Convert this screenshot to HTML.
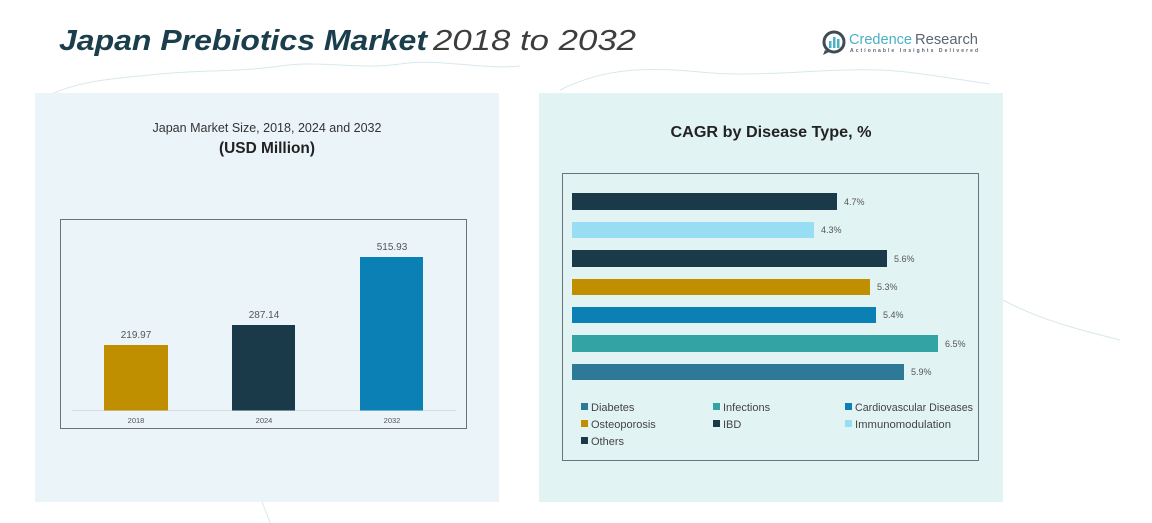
<!DOCTYPE html>
<html><head><meta charset="utf-8"><style>
html,body{margin:0;padding:0;background:#fff;}
body{width:1152px;height:523px;overflow:hidden;}
svg{display:block;font-family:"Liberation Sans",sans-serif;}
</style></head><body>
<svg width="1152" height="523" viewBox="0 0 1152 523" xmlns="http://www.w3.org/2000/svg">
<rect width="1152" height="523" fill="#ffffff"/>
<!-- faint map lines -->
<g fill="none" stroke="#d8e8ee" stroke-width="1">
<path d="M50 95 C80 80,120 78,160 74 C200 70,240 72,280 66 C320 60,360 70,400 64 C440 58,480 70,520 66"/>
<path d="M560 90 C600 70,640 66,700 72 C760 78,820 68,880 70 C920 72,960 80,990 84"/>
<path d="M262 502 C265 510,268 516,270 523"/>
<path d="M1003 300 C1040 320,1080 330,1120 340"/>
</g>
<!-- panels -->
<rect x="35" y="93" width="464" height="409" fill="#ebf4f9"/>
<rect x="539" y="93" width="464" height="409" fill="#e2f3f4"/>

<!-- title -->
<text x="59" y="50" font-size="29" font-weight="bold" font-style="italic" fill="#1b3e4c" textLength="368" lengthAdjust="spacingAndGlyphs">Japan Prebiotics Market</text>
<text x="433" y="50" font-size="29" font-style="italic" fill="#3d3d3d" textLength="203" lengthAdjust="spacingAndGlyphs">2018 to 2032</text>

<!-- logo -->
<g>
<circle cx="834" cy="42" r="10" fill="none" stroke="#3d4c55" stroke-width="3"/>
<path d="M825 50 L823 55 L829 52 Z" fill="#3d4c55"/>
<rect x="829" y="41" width="2.5" height="7" fill="#4ab0c8"/>
<rect x="833" y="37" width="2.5" height="11" fill="#4ab0c8"/>
<rect x="837" y="39" width="2.5" height="9" fill="#4ab0c8"/>
<text x="849" y="44" font-size="15" fill="#4ab0c8" textLength="63" lengthAdjust="spacingAndGlyphs">Credence</text>
<text x="915" y="44" font-size="15" fill="#5a6670" textLength="63" lengthAdjust="spacingAndGlyphs">Research</text>
<text x="850" y="52" font-size="5" font-weight="bold" fill="#5a6670" textLength="128" lengthAdjust="spacing">Actionable Insights Delivered</text>
</g>

<!-- left chart titles -->
<text x="267" y="132" font-size="13" fill="#333" text-anchor="middle" textLength="229" lengthAdjust="spacingAndGlyphs">Japan Market Size, 2018, 2024 and 2032</text>
<text x="267" y="153" font-size="15.5" font-weight="bold" fill="#222" text-anchor="middle" textLength="96" lengthAdjust="spacingAndGlyphs">(USD Million)</text>

<!-- left chart box -->
<rect x="60.5" y="219.5" width="406" height="209" fill="none" stroke="#6a7378" stroke-width="1"/>
<line x1="72" y1="410.5" x2="456" y2="410.5" stroke="#d5dde2" stroke-width="1"/>
<rect x="104" y="345" width="64" height="65.5" fill="#c08f00"/>
<rect x="232" y="325" width="63" height="85.5" fill="#1a3a4a"/>
<rect x="360" y="257" width="63" height="153.5" fill="#0a80b5"/>
<g font-size="10" fill="#555" text-anchor="middle">
<text x="136" y="338">219.97</text>
<text x="264" y="318">287.14</text>
<text x="392" y="250">515.93</text>
</g>
<g font-size="7.5" fill="#555" text-anchor="middle">
<text x="136" y="423">2018</text>
<text x="264" y="423">2024</text>
<text x="392" y="423">2032</text>
</g>

<!-- right chart title -->
<text x="771" y="137" font-size="15.5" font-weight="bold" fill="#222" text-anchor="middle" textLength="201" lengthAdjust="spacingAndGlyphs">CAGR by Disease Type, %</text>

<!-- right chart box -->
<rect x="562.5" y="173.5" width="416" height="287" fill="none" stroke="#6a7378" stroke-width="1"/>
<rect x="572" y="193" width="265" height="17" fill="#1a3a4a"/>
<rect x="572" y="222" width="242" height="16" fill="#97def5"/>
<rect x="572" y="250" width="315" height="17" fill="#1a3a4a"/>
<rect x="572" y="279" width="298" height="16" fill="#c08f00"/>
<rect x="572" y="307" width="304" height="16" fill="#0a80b5"/>
<rect x="572" y="335" width="366" height="17" fill="#33a3a3"/>
<rect x="572" y="364" width="332" height="16" fill="#2e7898"/>
<g font-size="9" fill="#555">
<text x="844" y="205">4.7%</text>
<text x="821" y="233">4.3%</text>
<text x="894" y="262">5.6%</text>
<text x="877" y="290">5.3%</text>
<text x="883" y="318">5.4%</text>
<text x="945" y="347">6.5%</text>
<text x="911" y="375">5.9%</text>
</g>
<!-- legend -->
<g font-size="11" fill="#444">
<rect x="581" y="403" width="7" height="7" fill="#2e7898"/><text x="591" y="411">Diabetes</text>
<rect x="713" y="403" width="7" height="7" fill="#33a3a3"/><text x="723" y="411">Infections</text>
<rect x="845" y="403" width="7" height="7" fill="#0a80b5"/><text x="855" y="411" textLength="118" lengthAdjust="spacingAndGlyphs">Cardiovascular Diseases</text>
<rect x="581" y="420" width="7" height="7" fill="#c08f00"/><text x="591" y="428">Osteoporosis</text>
<rect x="713" y="420" width="7" height="7" fill="#1a3a4a"/><text x="723" y="428">IBD</text>
<rect x="845" y="420" width="7" height="7" fill="#97def5"/><text x="855" y="428" textLength="96" lengthAdjust="spacingAndGlyphs">Immunomodulation</text>
<rect x="581" y="437" width="7" height="7" fill="#1a3a4a"/><text x="591" y="445">Others</text>
</g>
</svg>
</body></html>
